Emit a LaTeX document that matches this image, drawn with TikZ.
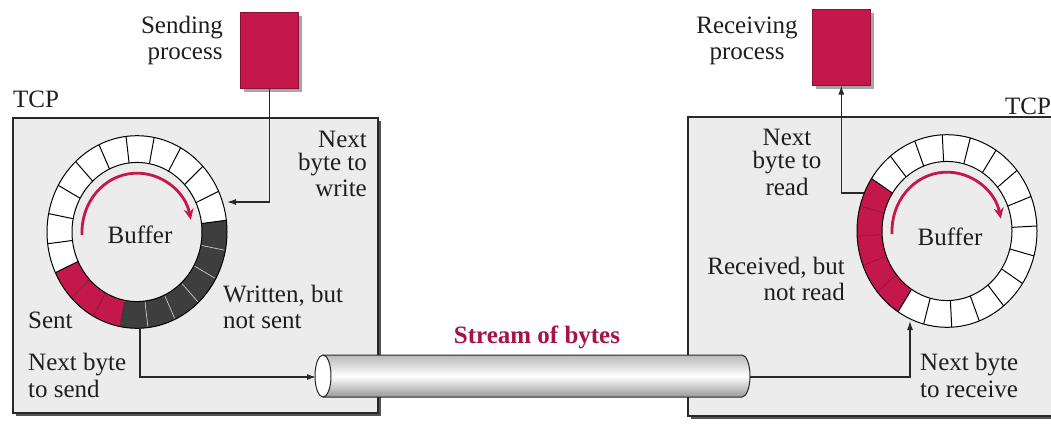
\documentclass[tikz,border=0pt]{standalone}
\usepackage{fontspec}
\setmainfont{Liberation Serif}
\usetikzlibrary{arrows.meta,calc,shadows}

\definecolor{crimson}{RGB}{196,24,76}
\definecolor{boxgray}{RGB}{236,236,236}
\definecolor{darkcell}{RGB}{62,62,62}
\definecolor{edge}{RGB}{40,40,40}
\definecolor{ink}{RGB}{30,30,30}

\tikzset{
  lbl/.style={font=\fontsize{25}{27}\selectfont, inner sep=0pt, text=ink},
  conn/.style={draw=edge, line width=1.2pt, -{Latex[length=9pt,width=6pt]}},
  tcpbox/.style={fill=boxgray, draw=edge, line width=1.2pt},
  tcpshadow/.style={fill=edge!80},
  proc/.style={fill=crimson, draw=crimson!70!black, line width=0.6pt,
    minimum width=58pt, minimum height=76pt, inner sep=0pt,
    drop shadow={shadow xshift=4pt, shadow yshift=-4pt, fill=gray!70, opacity=1}},
  cellline/.style={draw=black, line width=1pt},
  flow/.style={draw=crimson, line width=2.8pt, -{Stealth[length=11pt,width=10pt]}},
}

\begin{document}
\begin{tikzpicture}[x=1pt,y=1pt]
\useasboundingbox (0,0) rectangle (1051,-423);
\fill[white] (0,0) rectangle (1051,-423);

% ---- TCP boxes ----
\fill[tcpshadow] (16,-121) rectangle (381,-416);
\path[tcpbox] (13,-118) rectangle (378,-413);
\fill[tcpshadow] (691,-120) rectangle (1060,-419);
\path[tcpbox] (688,-117) rectangle (1060,-416);

% ---- processes ----
\node[proc, anchor=north west] (send) at (240,-12) {};
\node[proc, anchor=north west] (recv) at (812,-9) {};

% ---- sending buffer ring ----
\begin{scope}[shift={(137,-232)}, yscale=1.07]
  \foreach \i in {0,...,19}{
    \pgfmathsetmacro\a{7+18*\i}
    \pgfmathsetmacro\b{\a+18}
    \ifnum\i>13 \def\cc{darkcell}\else\ifnum\i>10 \def\cc{crimson}\else\def\cc{white}\fi\fi
    \fill[\cc] (\a:65) -- (\a:90) arc[start angle=\a, end angle=\b, radius=90]
      -- (\b:65) arc[start angle=\b, end angle=\a, radius=65] -- cycle;
  }
  \foreach \i in {0,...,19}{
    \pgfmathsetmacro\a{7+18*\i}
    \ifnum\i>14 \draw[gray!45, line width=0.7pt] (\a:66) -- (\a:89);
    \else\ifnum\i>11 \draw[crimson!60!black, line width=0.5pt] (\a:66) -- (\a:89);
    \else \draw[cellline] (\a:65) -- (\a:90);\fi\fi
  }
  \draw[cellline] (0,0) circle[radius=90];
  \draw[cellline] (0,0) circle[radius=65];
  \draw[flow] (183:55) arc[start angle=183, end angle=12, radius=55];
\end{scope}

% ---- receiving buffer ring ----
\begin{scope}[shift={(947,-231)}, yscale=1.07]
  \foreach \i in {0,...,19}{
    \pgfmathsetmacro\a{147+18*\i}
    \pgfmathsetmacro\b{\a+18}
    \ifnum\i<5 \def\cc{crimson}\else\def\cc{white}\fi
    \fill[\cc] (\a:65) -- (\a:90) arc[start angle=\a, end angle=\b, radius=90]
      -- (\b:65) arc[start angle=\b, end angle=\a, radius=65] -- cycle;
  }
  \foreach \i in {0,...,19}{
    \pgfmathsetmacro\a{147+18*\i}
    \ifnum\i>0 \ifnum\i<5 \draw[crimson!60!black, line width=0.5pt] (\a:66) -- (\a:89);
      \else \draw[cellline] (\a:65) -- (\a:90);\fi
    \else \draw[cellline] (\a:65) -- (\a:90);\fi
  }
  \draw[cellline] (0,0) circle[radius=90];
  \draw[cellline] (0,0) circle[radius=65];
  \draw[flow] (183:55) arc[start angle=183, end angle=12, radius=55];
\end{scope}

% ---- stream pipe ----
\shade[top color=gray!55, bottom color=gray!80, middle color=white]
  (323,-355) -- (742,-355) arc[start angle=90, end angle=-90, x radius=8, y radius=21]
  -- (323,-397) -- cycle;
\draw[edge, line width=1pt] (323,-355) -- (742,-355)
  arc[start angle=90, end angle=-90, x radius=8, y radius=21] -- (323,-397);
\draw[edge, fill=white, line width=1pt] (323,-376) ellipse[x radius=8, y radius=21];

% ---- connector end points ----
\coordinate (wrTip) at (227,-202);
\coordinate (sdOut) at (140,-327);
\coordinate (pipeL) at (316,-377);
\coordinate (pipeR) at (750,-377);
\coordinate (rcvTip) at (910,-321);
\coordinate (rdOut) at (864,-193);

\draw[conn] (send.south) |- (wrTip);
\draw[conn] (sdOut) |- (pipeL);
\draw[conn] (pipeR) -| (rcvTip);
\draw[conn] (rdOut) -| (recv.south);

% ---- labels ----
\node[lbl, anchor=base west] (tcpL) at (13,-107) {TCP};
\node[lbl, anchor=base west] (tcpR) at (1005,-114) {TCP};

\node[lbl, anchor=base] (sp1) at (182,-33) {Sending};
\node[lbl, anchor=base] (sp2) at (185,-59) {process};
\node[lbl, anchor=base] (rp1) at (747,-33) {Receiving};
\node[lbl, anchor=base] (rp2) at (747,-59) {process};

\node[lbl, anchor=base east] (nw1) at (367,-147) {Next};
\node[lbl, anchor=base east] (nw2) at (367,-170) {byte to};
\node[lbl, anchor=base east] (nw3) at (367,-196) {write};

\node[lbl, anchor=base] (lbuf) at (140,-243) {Buffer};
\node[lbl, anchor=base] (rbuf) at (950,-245) {Buffer};

\node[lbl, anchor=base west] (wn1) at (223,-302) {Written, but};
\node[lbl, anchor=base west] (wn2) at (223,-328) {not sent};
\node[lbl, anchor=base west] (sent) at (28,-328) {Sent};
\node[lbl, anchor=base west] (ns1) at (28,-370) {Next byte};
\node[lbl, anchor=base west] (ns2) at (28,-397) {to send};

\node[lbl, anchor=base] (nr1) at (787,-145) {Next};
\node[lbl, anchor=base] (nr2) at (787,-168) {byte to};
\node[lbl, anchor=base] (nr3) at (787,-195) {read};
\node[lbl, anchor=base east] (rn1) at (845,-274) {Received, but};
\node[lbl, anchor=base east] (rn2) at (845,-300) {not read};
\node[lbl, anchor=base west] (nv1) at (920,-370) {Next byte};
\node[lbl, anchor=base west] (nv2) at (920,-397) {to receive};

\node[lbl, anchor=base, font=\fontsize{25}{27}\selectfont\bfseries, text=crimson!85!black]
  (stream) at (537,-343) {Stream of bytes};
\end{tikzpicture}
\end{document}
